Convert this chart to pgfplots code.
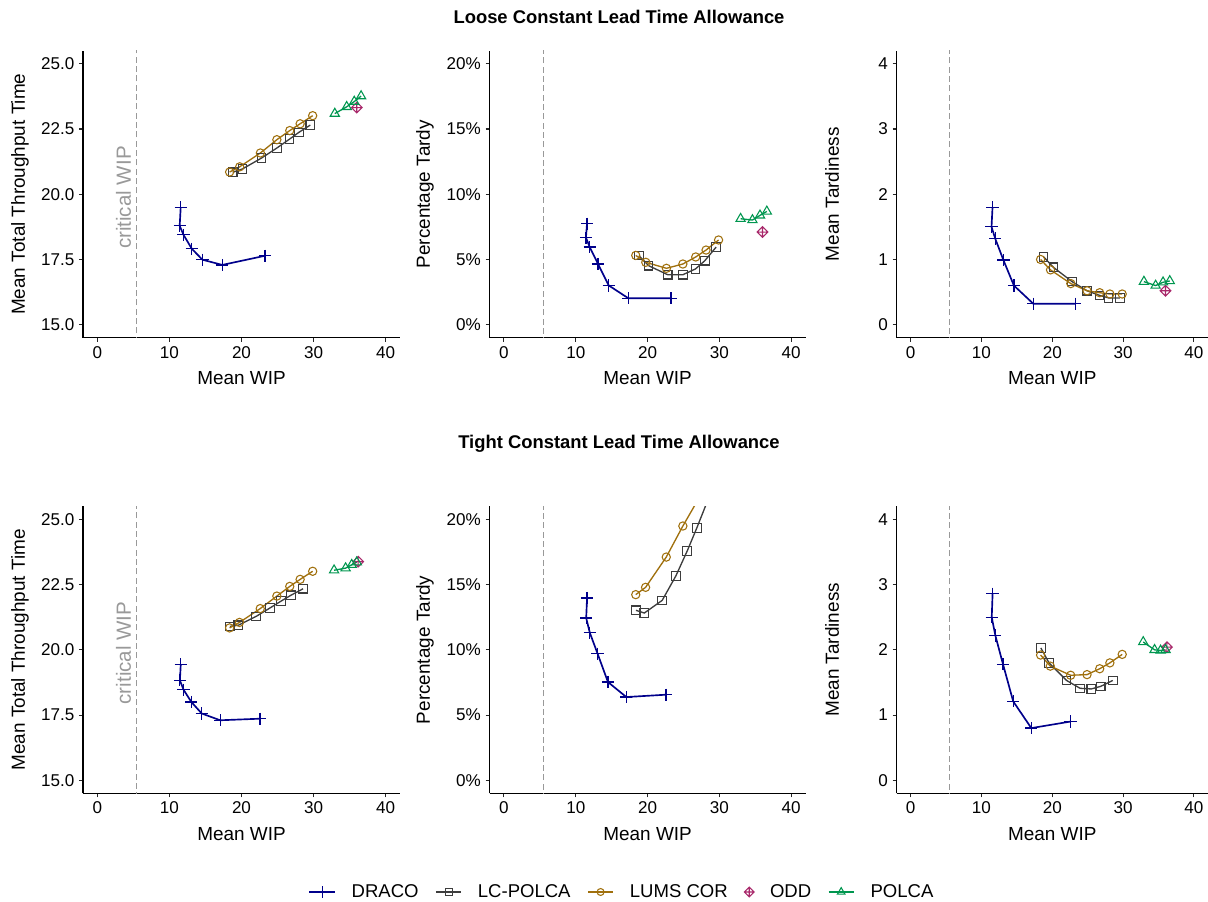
\documentclass[border=0pt]{standalone}
\usepackage{pgfplots}
\pgfplotsset{compat=1.18}
\usepackage{fontspec}
\setmainfont{Liberation Sans}
\definecolor{dracoC}{HTML}{00008B}
\definecolor{lcC}{HTML}{3D3D3D}
\definecolor{lumsC}{HTML}{A0700D}
\definecolor{oddC}{HTML}{A8286A}
\definecolor{polcaC}{HTML}{00964F}
\definecolor{critC}{HTML}{999999}
\pgfdeclareplotmark{diamondplus}{%
  \pgfpathmoveto{\pgfqpoint{0pt}{\pgfplotmarksize}}%
  \pgfpathlineto{\pgfqpoint{\pgfplotmarksize}{0pt}}%
  \pgfpathlineto{\pgfqpoint{0pt}{-\pgfplotmarksize}}%
  \pgfpathlineto{\pgfqpoint{-\pgfplotmarksize}{0pt}}%
  \pgfpathclose
  \pgfpathmoveto{\pgfqpoint{0pt}{\pgfplotmarksize}}%
  \pgfpathlineto{\pgfqpoint{0pt}{-\pgfplotmarksize}}%
  \pgfpathmoveto{\pgfqpoint{-\pgfplotmarksize}{0pt}}%
  \pgfpathlineto{\pgfqpoint{\pgfplotmarksize}{0pt}}%
  \pgfusepathqstroke}
\pgfplotsset{
  panel/.style={
    scale only axis, height=215.25pt,
    xmin=-2, xmax=42, xtick={0,10,20,30,40},
    axis x line*=bottom, axis y line*=left,
    axis line style={-, line width=0.8pt, black},
    tick align=outside, major tick length=3pt,
    tick style={line width=0.8pt, black!85},
    ticklabel style={font=\fontsize{12.8}{15}\selectfont, text=black},
    label style={font=\fontsize{14.2}{17}\selectfont},
    /pgf/number format/assume math mode=true,
    xlabel={Mean WIP},
    xlabel style={at={(axis description cs:0.5,-0.1404)}, anchor=center},
    clip=true,
    anchor=south west,
  },
  ttime/.style={ymin=14.5, ymax=25.5, ytick={15,17.5,20,22.5,25},
    yticklabels={15.0,17.5,20.0,22.5,25.0}, ylabel={Mean Total Throughput Time}},
  ptardy/.style={ymin=-1, ymax=21, ytick={0,5,10,15,20},
    yticklabels={0\%,5\%,10\%,15\%,20\%}, ylabel={Percentage Tardy}},
  mtardy/.style={ymin=-0.2, ymax=4.2, ytick={0,1,2,3,4},
    yticklabels={0,1,2,3,4}, ylabel={Mean Tardiness}},
  draco/.style={color=dracoC, line width=1.25pt, mark=+, mark size=4.6pt, mark options={line width=0.9pt, solid}},
  lcpolca/.style={color=lcC, line width=1pt, mark=square, mark size=3.2pt, mark options={line width=0.8pt, solid, fill=none}},
  lums/.style={color=lumsC, line width=1pt, mark=o, mark size=3.1pt, mark options={line width=0.8pt, solid, fill=none}},
  odd/.style={color=oddC, only marks, mark=diamondplus, mark size=4pt, mark options={line width=0.8pt, solid}},
  polca/.style={color=polcaC, line width=1pt, mark=triangle, mark size=4pt, mark options={line width=0.8pt, solid, fill=none}},
  crit/.style={color=critC, line width=0.8pt, dash pattern=on 4.5pt off 2.5pt, forget plot},
  legend image code/.code={\draw[mark repeat=2, mark phase=2, #1] plot coordinates {(0pt,0pt) (9.5pt,0pt) (19pt,0pt)};},
}
\begin{document}
\begin{tikzpicture}
\path[use as bounding box] (0,0) rectangle (906pt,676.5pt);
\node[font=\bfseries\fontsize{13.8}{16}\selectfont] at (464.25pt,663.75pt) {Loose Constant Lead Time Allowance};
\node[font=\bfseries\fontsize{13.8}{16}\selectfont] at (464.25pt,343.5pt) {Tight Constant Lead Time Allowance};

% ---------- Loose: throughput time
\begin{axis}[panel, ttime, at={(62.25pt,423.2pt)}, width=237.75pt,
  ylabel style={at={(axis description cs:-0.1987,0.5)}, anchor=center}]
\addplot[crit] coordinates {(5.45,0) (5.45,40)};
\node[rotate=90, text=critC, font=\fontsize{15.4}{18}\selectfont] at (axis cs:3.62,19.87) {critical WIP};
\addplot[draco] coordinates {(11.56,19.49) (11.42,18.79) (11.94,18.45) (13.10,17.91) (14.58,17.49) (17.33,17.29) (23.25,17.64)};
\addplot[lcpolca] coordinates {(18.78,20.84) (20.15,20.97) (22.80,21.39) (24.91,21.77) (26.66,22.11) (27.96,22.37) (29.55,22.65)};
\addplot[lums] coordinates {(18.35,20.85) (19.75,21.05) (22.62,21.58) (24.91,22.09) (26.70,22.44) (28.14,22.70) (29.88,23.01)};
\addplot[odd] coordinates {(36.0,23.32)};
\addplot[polca] coordinates {(32.95,23.09) (34.60,23.35) (35.65,23.55) (36.60,23.76)};
\end{axis}

% ---------- Loose: percentage tardy
\begin{axis}[panel, ptardy, at={(367.2pt,423.2pt)}, width=237pt,
  ylabel style={at={(axis description cs:-0.2044,0.5)}, anchor=center}]
\addplot[crit] coordinates {(5.45,-5) (5.45,40)};
\addplot[draco] coordinates {(11.56,7.74) (11.42,6.67) (11.94,5.95) (13.10,4.65) (14.58,3.01) (17.33,2.02) (23.25,2.02)};
\addplot[lcpolca] coordinates {(18.78,5.29) (20.15,4.52) (22.80,3.83) (24.91,3.83) (26.66,4.27) (27.96,4.90) (29.55,5.95)};
\addplot[lums] coordinates {(18.35,5.31) (19.75,4.78) (22.62,4.32) (24.91,4.65) (26.70,5.19) (28.14,5.72) (29.88,6.49)};
\addplot[odd] coordinates {(36.0,7.10)};
\addplot[polca] coordinates {(32.95,8.12) (34.60,8.02) (35.65,8.38) (36.60,8.68)};
\end{axis}

% ---------- Loose: mean tardiness
\begin{axis}[panel, mtardy, at={(672.4pt,423.2pt)}, width=233.6pt,
  ylabel style={at={(axis description cs:-0.2072,0.5)}, anchor=center}]
\addplot[crit] coordinates {(5.45,-1) (5.45,10)};
\addplot[draco] coordinates {(11.56,1.80) (11.42,1.50) (11.94,1.32) (13.10,0.99) (14.58,0.60) (17.33,0.32) (23.25,0.32)};
\addplot[lcpolca] coordinates {(18.78,1.04) (20.15,0.88) (22.80,0.66) (24.91,0.52) (26.66,0.45) (27.96,0.41) (29.55,0.41)};
\addplot[lums] coordinates {(18.35,1.00) (19.75,0.84) (22.62,0.63) (24.91,0.52) (26.70,0.49) (28.14,0.47) (29.88,0.47)};
\addplot[odd] coordinates {(36.0,0.52)};
\addplot[polca] coordinates {(32.95,0.66) (34.60,0.60) (35.65,0.65) (36.60,0.67)};
\end{axis}

% ---------- Tight: throughput time
\begin{axis}[panel, ttime, at={(62.25pt,81.5pt)}, width=237.75pt,
  ylabel style={at={(axis description cs:-0.1987,0.5)}, anchor=center}]
\addplot[crit] coordinates {(5.45,0) (5.45,40)};
\node[rotate=90, text=critC, font=\fontsize{15.4}{18}\selectfont] at (axis cs:3.62,19.88) {critical WIP};
\addplot[draco] coordinates {(11.57,19.44) (11.45,18.83) (11.96,18.47) (13.04,18.00) (14.48,17.56) (17.04,17.30) (22.56,17.36)};
\addplot[lcpolca] coordinates {(18.38,20.90) (19.54,20.94) (22.03,21.28) (23.93,21.60) (25.51,21.87) (26.85,22.09) (28.55,22.34)};
\addplot[lums] coordinates {(18.35,20.84) (19.72,21.05) (22.60,21.58) (24.91,22.06) (26.70,22.43) (28.14,22.70) (29.88,23.01)};
\addplot[odd] coordinates {(36.2,23.38)};
\addplot[polca] coordinates {(32.85,23.05) (34.45,23.13) (35.30,23.26) (36.00,23.36)};
\end{axis}

% ---------- Tight: percentage tardy (holds the legend)
\begin{axis}[panel, ptardy, at={(367.2pt,81.5pt)}, width=237pt,
  ylabel style={at={(axis description cs:-0.2044,0.5)}, anchor=center},
  legend columns=5,
  legend style={at={(axis description cs:0.419,-0.3438)}, anchor=center, draw=none, fill=none,
    font=\fontsize{13.9}{16}\selectfont, inner sep=0pt,
    nodes={inner sep=1.5pt},
    /tikz/every odd column/.append style={column sep=10.5pt},
    /tikz/every even column/.append style={column sep=11pt}}]
\addplot[crit] coordinates {(5.45,-5) (5.45,40)};
\addplot[draco, forget plot] coordinates {(11.57,13.97) (11.45,12.44) (11.96,11.30) (13.04,9.70) (14.48,7.53) (17.04,6.38) (22.56,6.56)};
\addplot[lcpolca, forget plot] coordinates {(18.38,13.03) (19.54,12.82) (22.03,13.79) (23.93,15.66) (25.51,17.57) (26.85,19.34) (28.55,21.70)};
\addplot[lums, forget plot] coordinates {(18.35,14.23) (19.72,14.79) (22.60,17.11) (24.91,19.49) (26.70,21.20) (28.14,23.00) (29.88,25.00)};
\addlegendimage{draco, mark size=4.4pt}\addlegendentry{DRACO}
\addlegendimage{lcpolca, mark size=2.6pt}\addlegendentry{LC-POLCA}
\addlegendimage{lums, mark size=2.6pt}\addlegendentry{LUMS COR}
\addlegendimage{odd, mark size=3.6pt}\addlegendentry{ODD}
\addlegendimage{polca, mark size=3.3pt}\addlegendentry{POLCA}
\end{axis}

% ---------- Tight: mean tardiness
\begin{axis}[panel, mtardy, at={(672.4pt,81.5pt)}, width=233.6pt,
  ylabel style={at={(axis description cs:-0.2072,0.5)}, anchor=center}]
\addplot[crit] coordinates {(5.45,-1) (5.45,10)};
\addplot[draco] coordinates {(11.57,2.86) (11.45,2.50) (11.96,2.22) (13.04,1.78) (14.48,1.21) (17.04,0.80) (22.56,0.90)};
\addplot[lcpolca] coordinates {(18.38,2.03) (19.54,1.80) (22.03,1.53) (23.93,1.41) (25.51,1.40) (26.85,1.44) (28.55,1.53)};
\addplot[lums] coordinates {(18.35,1.92) (19.72,1.75) (22.60,1.61) (24.91,1.62) (26.70,1.71) (28.14,1.80) (29.88,1.93)};
\addplot[odd] coordinates {(36.2,2.04)};
\addplot[polca] coordinates {(32.85,2.12) (34.45,2.00) (35.30,1.99) (36.00,2.00)};
\end{axis}
\end{tikzpicture}
\end{document}
